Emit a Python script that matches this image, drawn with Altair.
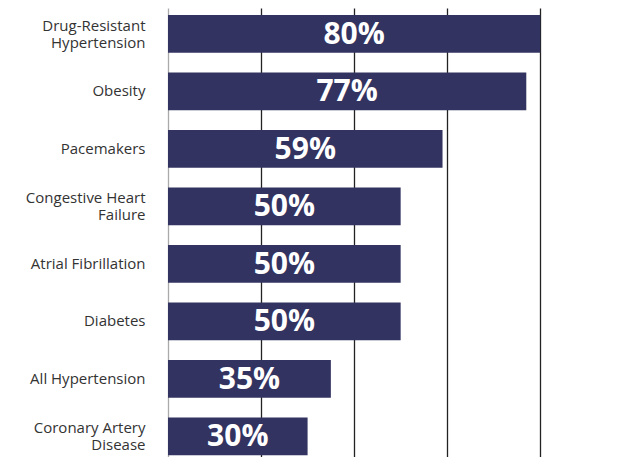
import altair as alt
import pandas as pd

categories = [
    "Drug-Resistant\nHypertension",
    "Obesity",
    "Pacemakers",
    "Congestive Heart\nFailure",
    "Atrial Fibrillation",
    "Diabetes",
    "All Hypertension",
    "Coronary Artery\nDisease",
]
values = [80, 77, 59, 50, 50, 50, 35, 30]
value_labels = ["80%", "77%", "59%", "50%", "50%", "50%", "35%", "30%"]
grid_values = [0, 20, 40, 60, 80, 100]

df = pd.DataFrame({"cat": categories, "val": values, "lab": value_labels,
                   "half": [v / 2 for v in values]})

y_enc = alt.Y("cat:N", sort=categories,
              scale=alt.Scale(paddingInner=0.345, paddingOuter=0.077, align=0.79),
              axis=alt.Axis(title=None, ticks=False, domain=False, grid=False,
                            labelExpr="split(datum.label, '\\n')",
                            labelFont="Open Sans", labelFontSize=15,
                            labelColor="#333333", labelLineHeight=17,
                            labelOffset={"condition": {"test": "indexof(datum.label, '\\n') >= 0",
                                                       "value": -8},
                                         "value": 0},
                            labelPadding=23, labelLimit=200))

bars = alt.Chart(df).mark_bar(color="#323360").encode(
    x=alt.X("val:Q", scale=alt.Scale(domain=[0, 98], nice=False),
            axis=alt.Axis(title=None, values=grid_values,
                          labels=False, ticks=False, domain=False,
                          grid=True,
                          gridColor={"condition": {"test": "datum.value === 0", "value": "#aaaaaa"},
                                     "value": "#222222"},
                          gridWidth=1.3, gridOpacity=1)),
    y=y_enc,
)

text = alt.Chart(df).mark_text(color="white", font="Open Sans", fontWeight="bold",
                               fontSize=30, align="center", baseline="middle", dy=1).encode(
    x=alt.X("half:Q"),
    y=alt.Y("cat:N", sort=categories),
    text="lab:N",
)

chart = alt.layer(bars, text).properties(
    width=456, height=449,
    autosize=alt.AutoSizeParams(type="none"),
    padding={"left": 160, "top": 0, "right": 0, "bottom": 0},
).configure_view(stroke=None)

chart.save("out.html", embed_options={"renderer": "svg", "actions": False})
